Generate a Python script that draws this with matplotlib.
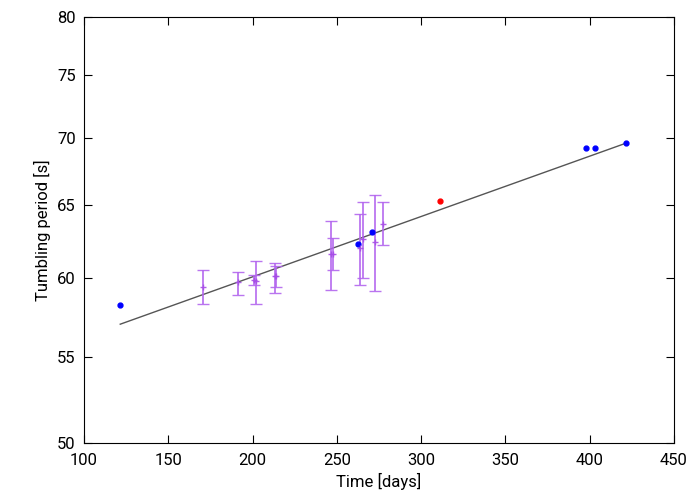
import matplotlib
matplotlib.use('Agg')
import matplotlib.pyplot as plt
import numpy as np

plt.rcParams['font.family'] = ['Roboto', 'DejaVu Sans']

# measurements with error bars
err_t = [170.5, 191.3, 201, 202, 213.6, 214, 246.6, 248, 263.7, 265.6, 272.4, 277.4]
err_p = [59.4, 59.7, 59.85, 59.8, 60.1, 60.1, 61.6, 61.6, 62.0, 62.6, 62.4, 63.7]
err_lo = [1.1, 0.8, 0.35, 1.5, 1.1, 0.7, 2.4, 1.1, 2.5, 2.6, 3.3, 1.5]
err_hi = [1.1, 0.7, 0.35, 1.3, 0.9, 0.7, 2.3, 1.1, 2.4, 2.6, 3.3, 1.5]

blue_t = [121.5, 262.5, 270.6, 398, 403, 421.5]
blue_p = [58.2, 62.3, 63.1, 69.2, 69.2, 69.6]

red_t = [311.4]
red_p = [65.3]

slope, intercept = 0.042, 51.9
fit_t = np.array([121.5, 421.5])

fig = plt.figure(figsize=(6.89, 5), dpi=100)
ax = fig.add_axes([84/689, 57/500, 590/689, 426/500])

ax.plot(fit_t, intercept + slope*fit_t, color='#555555', lw=1)
ax.errorbar(err_t, err_p, yerr=[err_lo, err_hi], fmt='+', color='#a64de6',
            ecolor='#b366ee', elinewidth=1.3, capsize=4, markersize=5, alpha=0.9)
ax.plot(blue_t, blue_p, 'o', color='blue', markersize=3.5)
ax.plot(red_t, red_p, 'o', color='red', markersize=3.5)

ax.set_yscale('log')
ax.set_xlim(100, 450)
ax.set_ylim(50, 80)
yt = [50, 55, 60, 65, 70, 75, 80]
ax.set_yticks(yt)
ax.set_yticklabels([str(v) for v in yt])
ax.yaxis.set_minor_locator(matplotlib.ticker.NullLocator())
ax.tick_params(direction='in', length=6, labelsize=12, top=True, right=True)
ax.tick_params(axis='x', pad=7)
ax.tick_params(axis='y', pad=6)
ax.set_xlabel('Time [days]', fontsize=12)
ax.set_ylabel('Tumbling period [s]', fontsize=12)

fig.savefig('out.png')
